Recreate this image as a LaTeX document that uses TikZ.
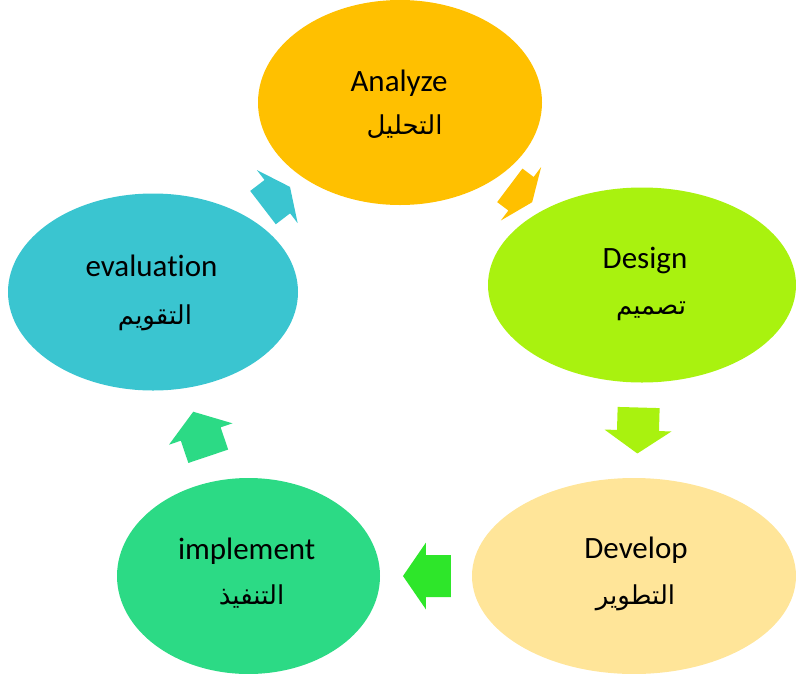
\documentclass[tikz,border=0pt]{standalone}
\usepackage{fontspec}
\setmainfont[Ligatures=NoCommon]{Carlito}
\newfontfamily\arabicfont[Script=Arabic]{DejaVu Sans}
\TeXXeTstate=1
\usetikzlibrary{shapes.geometric,calc}
\definecolor{cAnalyze}{HTML}{FFC000}
\definecolor{cDesign}{HTML}{A9F20F}
\definecolor{cDevelop}{HTML}{FFE599}
\definecolor{cImpl}{HTML}{2CDA85}
\definecolor{cEval}{HTML}{3AC5D0}
\definecolor{cArrowThree}{HTML}{2EE62A}
\newcommand\cyclearrow[5]{%
  \begin{scope}[shift={(#1)},rotate=#2]
    \fill[#5] ({-#3/2},-21) -- ({#3/2-#4},-21) -- ({#3/2-#4},-33.5) -- ({#3/2},0)
      -- ({#3/2-#4},33.5) -- ({#3/2-#4},21) -- ({-#3/2},21) -- cycle;
  \end{scope}}
\tikzset{
  phase/.style={ellipse, inner sep=0pt, draw=none},
  entext/.style={anchor=base, inner sep=0pt, font=\fontsize{31}{36}\selectfont},
  artext/.style={anchor=base, inner sep=0pt, font=\arabicfont\fontsize{26}{30}\selectfont},
}
\begin{document}
\begin{tikzpicture}[x=1pt,y=-1pt]
\useasboundingbox (0,0) rectangle (796,673);
\clip (0,0) rectangle (796,673);
% ellipses
\node[phase, fill=cAnalyze, minimum width=284pt, minimum height=205pt] (an) at (400,102.5) {};
\node[phase, fill=cDesign, minimum width=308pt, minimum height=195pt] (de) at (642,285) {};
\node[phase, fill=cDevelop, minimum width=324pt, minimum height=196pt] (dv) at (634,576) {};
\node[phase, fill=cImpl, minimum width=263pt, minimum height=196pt] (im) at (248.5,576) {};
\node[phase, fill=cEval, minimum width=290pt, minimum height=197pt] (ev) at (153,292) {};
% arrow positions
\coordinate (a1) at ($(an)!0.5!(de)$);
\coordinate (a2) at ($(de)!0.5!(dv)$);
\coordinate (a3) at ($(dv)!0.537!(im)$);
\coordinate (a4) at ($(im)!0.5!(ev)$);
\coordinate (a5) at ($(ev)!0.5!(an)$);
\cyclearrow{a1}{-37}{28}{14}{cAnalyze}
\cyclearrow{a2}{-91.6}{46}{23}{cDesign}
\cyclearrow{a3}{180}{48}{23}{cArrowThree}
\cyclearrow{a4}{108.6}{47}{23.5}{cImpl}
\cyclearrow{a5}{37.5}{34}{16}{cEval}
% labels
\node[entext] (anE) at (399,91.7) {Analyze};
\node[artext] (anA) at (404.5,134.5) {\beginR التحليل\endR};
\node[entext] (deE) at (645,268) {Design};
\node[artext] (deA) at (651,314.5) {\beginR تصميم\endR};
\node[entext] (dvE) at (636,558) {Develop};
\node[artext] (dvA) at (635.5,604.5) {\beginR التطوير\endR};
\node[entext] (imE) at (246.7,559) {implement};
\node[artext] (imA) at (251.5,604.5) {\beginR التنفيذ\endR};
\node[entext] (evE) at (151.5,276.7) {evaluation};
\node[artext] (evA) at (155,324.5) {\beginR التقويم\endR};
\end{tikzpicture}
\end{document}
